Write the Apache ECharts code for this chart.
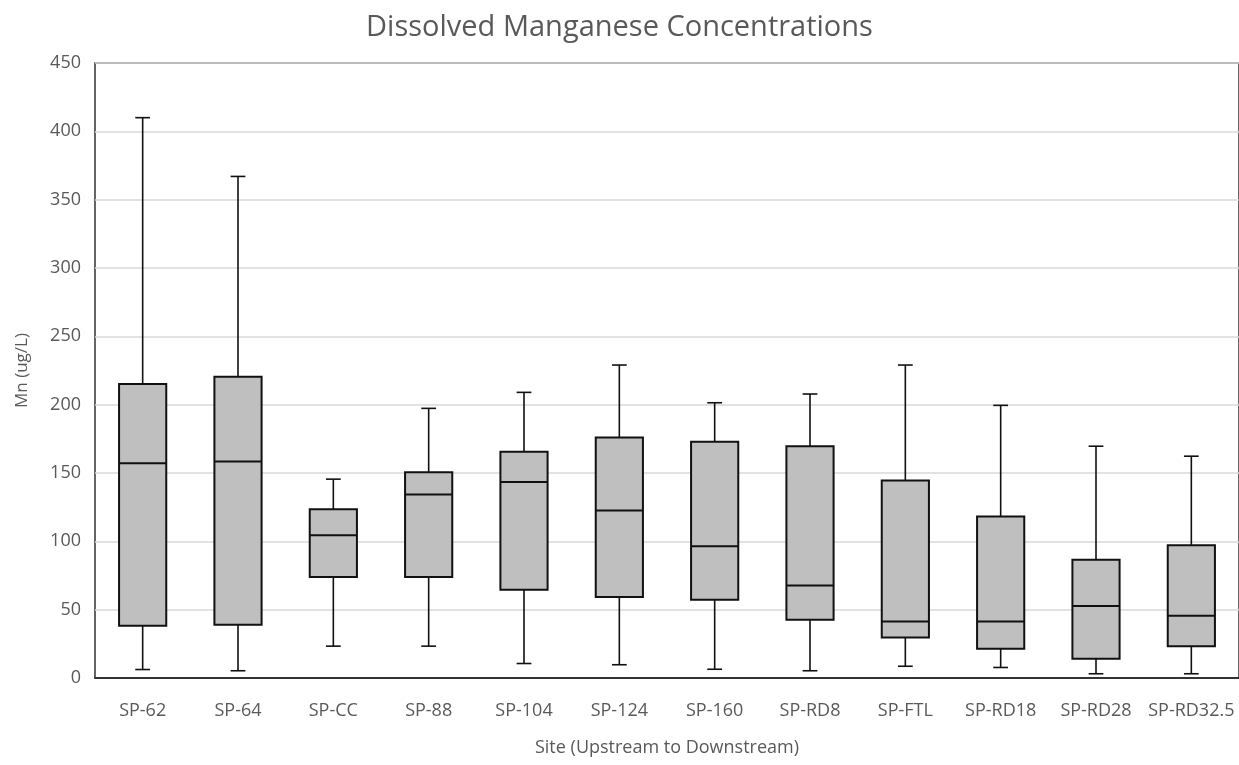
<!DOCTYPE html>
<html>
<head>
<meta charset="utf-8">
<title>Dissolved Manganese Concentrations</title>
<script src="https://cdn.jsdelivr.net/npm/echarts@6/dist/echarts.min.js"></script>
<style>
  html, body { margin: 0; padding: 0; background: #ffffff; }
  #chart { width: 1239px; height: 765px; }
</style>
</head>
<body>
<div id="chart"></div>
<script>
// Sites, upstream to downstream
const sites = ['SP-62', 'SP-64', 'SP-CC', 'SP-88', 'SP-104', 'SP-124', 'SP-160', 'SP-RD8', 'SP-FTL', 'SP-RD18', 'SP-RD28', 'SP-RD32.5'];

// Five-number summaries of dissolved Mn (ug/L) per site
const whiskerLow  = [6.2, 5.3, 23.3, 23.3, 10.6, 9.7, 6.4, 5.3, 8.6, 7.7, 3.1, 3.1];
const quartile1   = [38.3, 39.0, 73.9, 73.9, 64.6, 59.2, 57.3, 42.7, 29.7, 21.4, 14.1, 23.3];
const medians     = [157.2, 158.4, 104.4, 134.3, 143.5, 122.5, 96.4, 67.6, 41.4, 41.4, 52.6, 45.6];
const quartile3   = [215.1, 220.4, 123.5, 150.6, 165.5, 176.0, 172.8, 169.6, 144.5, 118.1, 86.6, 97.1];
const whiskerHigh = [410.0, 367.0, 145.5, 197.3, 209.0, 229.0, 201.4, 207.8, 229.0, 199.5, 169.6, 162.3];

// Value axis ticks
const yTicks = [0, 50, 100, 150, 200, 250, 300, 350, 400, 450];

const boxData = sites.map((s, i) => [i, whiskerLow[i], quartile1[i], medians[i], quartile3[i], whiskerHigh[i]]);

const textGray = '#595959';
const font = '"Open Sans", "Noto Sans", sans-serif';

// Box with narrow whisker caps, drawn through the category/value scales
function renderBox(params, api) {
  const idx = api.value(0);
  const pLow = api.coord([idx, api.value(1)]);
  const pQ1 = api.coord([idx, api.value(2)]);
  const pMed = api.coord([idx, api.value(3)]);
  const pQ3 = api.coord([idx, api.value(4)]);
  const pHigh = api.coord([idx, api.value(5)]);
  const band = api.size([1, 0])[0];
  const boxW = band * 0.495;
  const capW = band * 0.155;
  const cx = pMed[0];
  const lineStyle = { stroke: '#111111', lineWidth: 1.6, fill: null };
  const boxStyle = { stroke: '#111111', lineWidth: 2, fill: '#bfbfbf' };
  return {
    type: 'group',
    children: [
      { type: 'line', shape: { x1: cx, y1: pHigh[1], x2: cx, y2: pQ3[1] }, style: lineStyle },
      { type: 'line', shape: { x1: cx, y1: pQ1[1], x2: cx, y2: pLow[1] }, style: lineStyle },
      { type: 'line', shape: { x1: cx - capW / 2, y1: pHigh[1], x2: cx + capW / 2, y2: pHigh[1] }, style: lineStyle },
      { type: 'line', shape: { x1: cx - capW / 2, y1: pLow[1], x2: cx + capW / 2, y2: pLow[1] }, style: lineStyle },
      { type: 'rect', shape: { x: cx - boxW / 2, y: pQ3[1], width: boxW, height: pQ1[1] - pQ3[1] }, style: boxStyle },
      { type: 'line', shape: { x1: cx - boxW / 2, y1: pMed[1], x2: cx + boxW / 2, y2: pMed[1] }, style: { stroke: '#111111', lineWidth: 2, fill: null } }
    ]
  };
}

const chart = echarts.init(document.getElementById('chart'), null, { renderer: 'canvas' });
chart.setOption({
  animation: false,
  backgroundColor: '#ffffff',
  title: {
    text: 'Dissolved Manganese Concentrations',
    left: 'center',
    top: 8,
    textStyle: { fontFamily: font, fontSize: 29, fontWeight: 'normal', color: textGray }
  },
  grid: {
    left: 95, right: 0, top: 63, bottom: 87,
    show: true, borderColor: '#333333', borderWidth: 1.5, backgroundColor: 'transparent'
  },
  xAxis: {
    type: 'category',
    data: sites,
    boundaryGap: true,
    name: 'Site (Upstream to Downstream)',
    nameLocation: 'middle',
    nameGap: 61,
    nameTextStyle: { fontFamily: font, fontSize: 18, color: textGray },
    axisLine: { show: true, lineStyle: { color: '#333333', width: 2 } },
    axisTick: { show: false },
    axisLabel: { margin: 24, fontFamily: font, fontSize: 18, color: textGray, interval: 0 },
    splitLine: { show: false }
  },
  yAxis: {
    type: 'value',
    min: yTicks[0],
    max: yTicks[yTicks.length - 1],
    interval: yTicks[1] - yTicks[0],
    name: 'Mn (ug/L)',
    nameLocation: 'middle',
    nameGap: 64,
    nameTextStyle: { fontFamily: font, fontSize: 17, color: textGray },
    axisLine: { show: false },
    axisTick: { show: false },
    axisLabel: { margin: 14, fontFamily: font, fontSize: 18, color: textGray },
    splitLine: { show: true, lineStyle: { color: '#d9d9d9', width: 1.5 } }
  },
  series: [{
    type: 'custom',
    renderItem: renderBox,
    encode: { x: 0, y: [1, 2, 3, 4, 5] },
    data: boxData,
    z: 3
  }]
});
</script>
</body>
</html>
